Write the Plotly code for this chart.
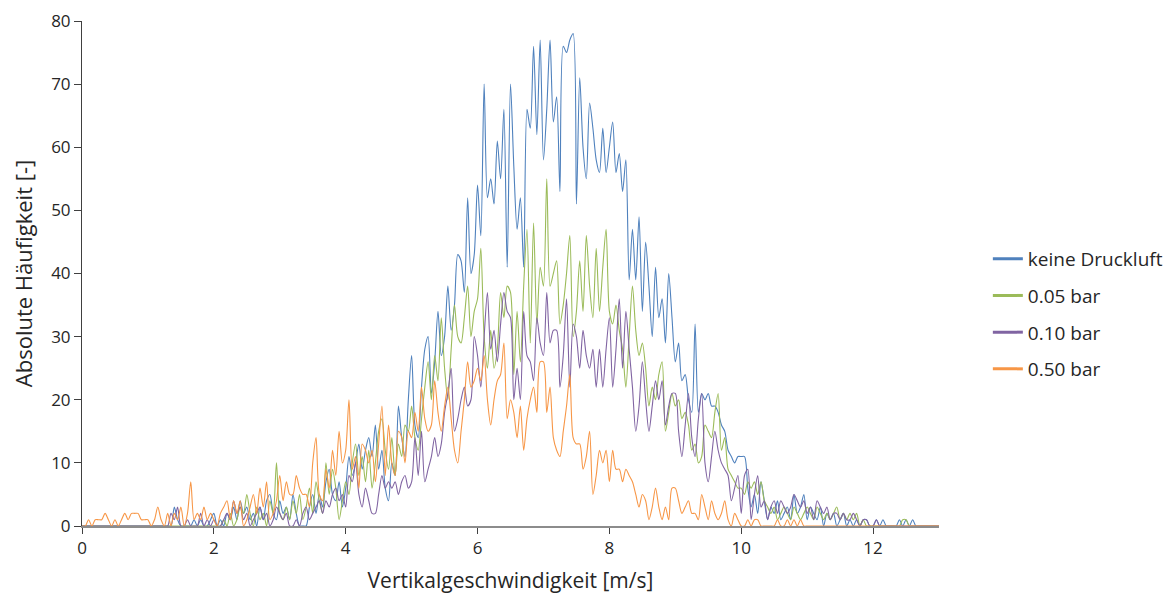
import plotly.graph_objects as go

# x grid (bins of vertical velocity, m/s)
velocity = [round(i * 0.05, 2) for i in range(261)]

series_names = ["keine Druckluft", "0.05 bar", "0.10 bar", "0.50 bar"]
series_colors = ["#4F81BD", "#9BBB59", "#8064A2", "#F79646"]

keine_druckluft = [
    0,0,0,0,0,0,0,0,0,0, 0,0,0,0,0,0,0,0,0,0,
    0,0,0,0,0,0,0,0,3,1, 0,0,0,0,1,0,1,0,0,1,
    2,0,1,0,2,1,3,1,4,2, 3,1,2,0,3,1,4,5,2,1,
    4,2,3,1,5,2,0,0,0,3, 5,2,5,3,7,9,5,4,7,3,
    6,11,8,10,13,9,12,14,11,16, 9,12,6,4,10,8,19,14,11,20,
    27,16,14,22,28,30,21,26,34,27, 30,38,31,35,43,42,37,52,40,43,
    54,46,70,52,55,51,61,55,66,41, 70,57,47,52,41,66,63,76,62,77,
    58,66,77,64,68,53,76,75,77,78, 51,71,60,55,67,63,58,56,63,56,
    60,64,56,59,53,58,39,47,39,49, 34,45,38,30,41,33,36,29,40,33,
    26,29,23,24,20,18,32,18,21,20, 21,19,19,18,16,15,12,11,10,11,
    11,11,6,3,5,2,7,4,1,3, 2,4,1,2,3,1,5,2,3,5,
    1,3,2,1,3,0,2,1,2,0, 1,2,0,1,0,1,0,1,1,0,
    0,1,0,1,0,0,0,0,1,0, 1,0,1,0,0,0,0,0,0,0,
    0,
]

bar_005 = [
    0,0,0,0,0,0,0,0,0,0, 0,0,0,0,0,0,0,0,0,0,
    0,0,0,0,0,0,0,0,0,0, 0,0,0,0,0,0,0,0,0,0,
    0,0,0,1,0,2,0,1,3,2, 5,2,0,3,1,2,0,4,2,10,
    2,1,3,1,4,2,5,1,3,6, 2,7,4,2,10,5,9,6,1,4,
    7,5,10,13,8,11,7,12,6,10, 15,17,12,9,14,8,13,11,16,15,
    19,14,12,17,22,26,20,27,23,33, 25,20,28,35,30,29,33,38,30,34,
    36,44,30,25,31,25,28,37,33,38, 37,24,34,26,38,47,29,48,32,41,
    38,55,38,40,42,32,35,40,46,30, 34,42,34,46,38,33,44,34,41,47,
    34,32,35,31,28,22,30,38,31,27, 29,25,19,22,20,24,26,15,18,21,
    19,20,17,18,16,12,13,10,11,16, 15,14,18,21,12,14,9,8,7,6,
    6,5,7,6,7,5,7,4,3,2, 3,1,2,3,2,1,3,2,1,2,
    3,2,1,3,2,1,2,1,2,3, 1,2,1,2,1,2,0,1,0,0,
    0,0,0,0,0,0,0,0,0,1, 1,0,0,0,0,0,0,0,0,0,
    0,
]

bar_010 = [
    0,0,0,0,0,0,0,0,0,0, 0,0,0,0,0,0,0,0,0,0,
    0,0,0,0,0,0,0,2,1,3, 0,0,1,0,0,0,2,0,1,0,
    1,0,0,1,2,1,4,2,3,1, 2,0,1,2,3,1,2,0,1,3,
    2,1,2,0,0,1,0,2,3,1, 2,3,4,2,4,3,5,6,4,5,
    3,8,7,10,5,3,6,4,2,2, 5,8,6,7,6,7,5,7,8,6,
    7,14,8,15,7,9,11,14,11,13, 18,21,25,15,17,20,22,19,20,30,
    27,22,30,37,28,31,26,32,37,34, 33,20,25,20,34,27,26,23,33,29,
    27,37,29,31,31,22,27,36,22,32, 30,25,31,27,25,28,22,28,22,28,
    33,22,28,36,25,34,28,22,15,19, 26,20,15,19,23,20,23,16,19,21,
    21,15,11,16,21,14,11,17,21,10, 7,11,15,12,10,9,8,4,6,8,
    2,8,9,1,5,8,3,4,1,3, 4,2,4,3,2,3,5,4,3,4,
    2,3,1,4,3,2,3,1,2,2, 1,2,1,1,2,1,0,1,1,0,
    0,1,0,0,0,0,0,0,0,0, 0,0,0,0,0,0,0,0,0,0,
    0,
]

bar_050 = [
    0,0,1,0,1,1,1,2,1,0, 1,0,1,2,1,2,2,2,1,1,
    1,0,1,3,1,0,2,0,2,1, 3,0,2,7,1,2,1,3,1,2,
    1,0,2,3,4,1,4,2,4,0, 1,3,5,2,6,3,7,1,2,4,
    8,4,7,5,5,8,6,5,5,3, 10,14,5,4,9,6,12,8,15,10,
    12,20,9,11,6,13,12,10,12,7, 13,19,8,16,10,8,15,14,10,15,
    14,18,15,22,17,15,16,23,18,15, 19,22,17,12,10,15,20,26,22,23,
    25,23,27,20,16,20,23,24,29,17, 20,18,14,19,12,17,20,22,18,26,
    26,18,22,14,12,11,15,19,24,14, 13,13,9,11,15,5,8,12,10,12,
    7,12,9,9,7,9,8,7,5,3, 5,4,1,3,6,3,1,3,1,6,
    6,4,2,3,4,2,2,1,5,3, 1,4,2,1,2,4,1,0,2,1,
    0,0,1,0,1,1,0,0,0,0, 0,1,0,0,1,0,1,0,1,0,
    0,0,0,0,0,0,0,0,0,0, 0,0,0,0,0,0,0,0,0,0,
    0,0,0,0,0,0,0,0,0,0, 0,0,0,0,0,0,0,0,0,0,
    0,
]

all_series = [keine_druckluft, bar_005, bar_010, bar_050]
for s in all_series:
    assert len(s) == len(velocity), len(s)

FONT = "'Open Sans', Lato, sans-serif"
TXT = "#262626"

fig = go.Figure()
for name, color, vals in zip(series_names, series_colors, all_series):
    fig.add_trace(go.Scatter(
        x=velocity, y=vals, mode="lines", name=name,
        line=dict(color=color, width=1.1, shape="spline", smoothing=0.8),
        showlegend=False, hoverinfo="x+y+name",
    ))
# legend entries with thicker sample lines
for name, color in zip(series_names, series_colors):
    fig.add_trace(go.Scatter(
        x=[None], y=[None], mode="lines", name=name,
        line=dict(color=color, width=3), showlegend=True, legendgroup=name,
    ))

fig.update_layout(
    width=1173, height=600,
    margin=dict(l=74, r=242, t=13, b=82, autoexpand=False),
    plot_bgcolor="white", paper_bgcolor="white",
    font=dict(family=FONT, color=TXT, size=18),
    legend=dict(
        x=1.057, y=0.42, xanchor="left", yanchor="middle",
        font=dict(size=19, color=TXT), tracegroupgap=9,
        itemwidth=30, bgcolor="rgba(0,0,0,0)",
    ),
    xaxis=dict(
        range=[0, 13], tickmode="array", tickvals=[0, 2, 4, 6, 8, 10, 12],
        showgrid=False, zeroline=False, automargin=False, ticklabeloverflow="allow",
        showline=True, linecolor="#8C8C8C", linewidth=1.5,
        ticks="outside", ticklen=6, tickcolor="#404040", tickwidth=1,
        tickfont=dict(size=17, color=TXT),
        title=dict(text="Vertikalgeschwindigkeit [m/s]", font=dict(size=21, color=TXT), standoff=15),
    ),
    yaxis=dict(
        range=[0, 80], tickmode="array", tickvals=[0, 10, 20, 30, 40, 50, 60, 70, 80],
        showgrid=False, zeroline=False, automargin=False, ticklabeloverflow="allow",
        showline=True, linecolor="#404040", linewidth=1,
        ticks="outside", ticklen=7, tickcolor="#404040", tickwidth=1,
        tickfont=dict(size=17, color=TXT),
        title=dict(text="Absolute Häufigkeit [-]", font=dict(size=22, color=TXT), standoff=13),
    ),
)

fig.write_html("out.html")
